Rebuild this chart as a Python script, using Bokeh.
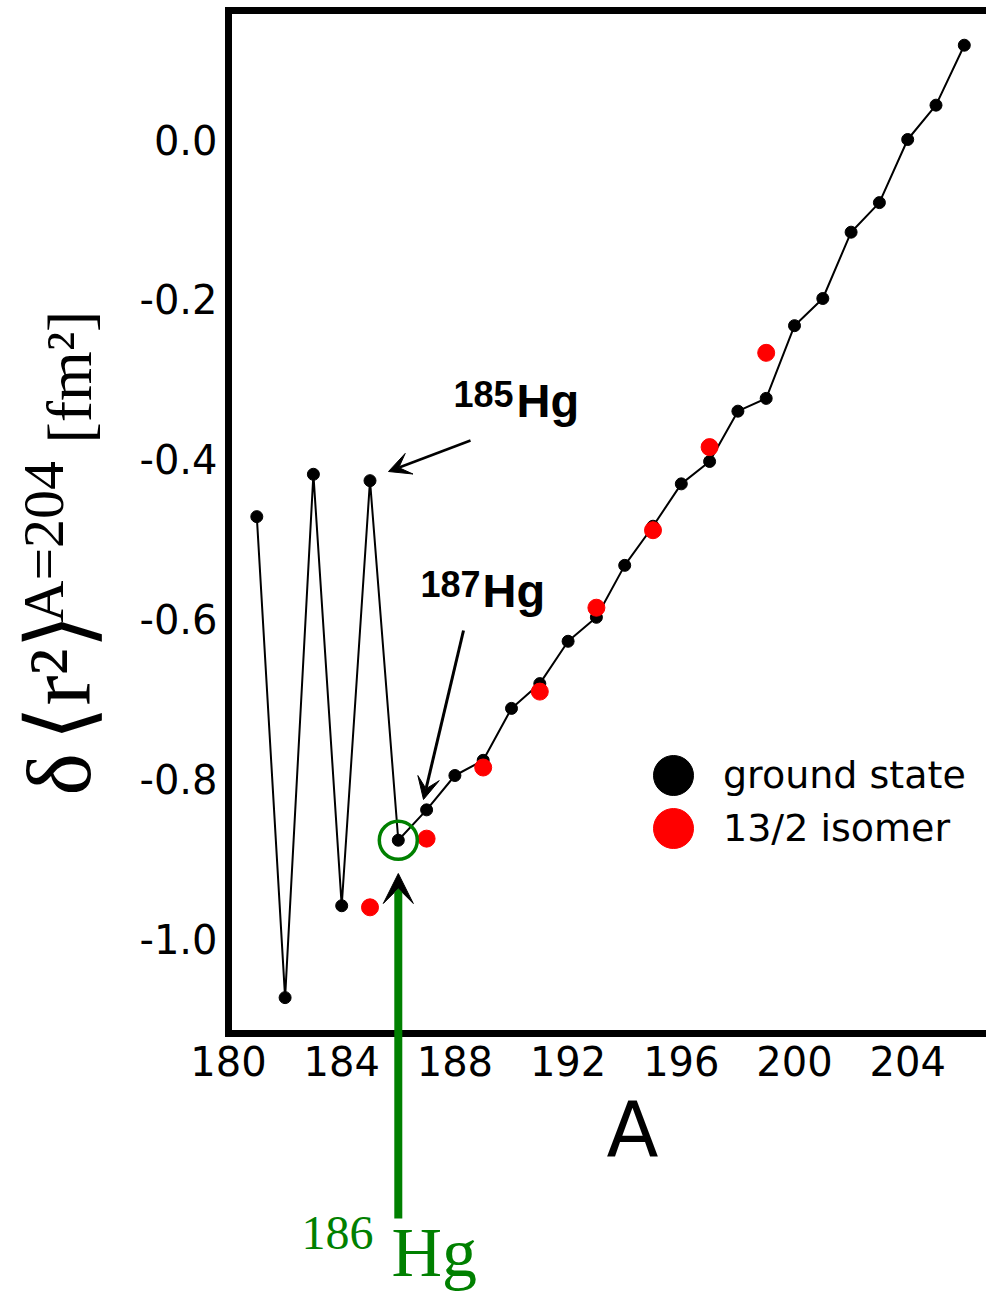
import math
from bokeh.plotting import figure
from bokeh.models import (FixedTicker, NumeralTickFormatter, LinearAxis, Label, Arrow,
                          VeeHead, Legend, LegendItem, Range1d)
from bokeh.embed import file_html
from bokeh.resources import INLINE

# ---- data ----
mass_ground = list(range(181, 207))
r2_ground = [-0.472, -1.074, -0.419, -0.959, -0.427, -0.877, -0.839, -0.796, -0.777,
             -0.712, -0.681, -0.628, -0.598, -0.533, -0.484, -0.431, -0.403, -0.340,
             -0.324, -0.233, -0.199, -0.116, -0.079, 0.0, 0.043, 0.118]
mass_isomer = [185, 187, 189, 191, 193, 195, 197, 199]
r2_isomer = [-0.961, -0.875, -0.786, -0.691, -0.586, -0.489, -0.385, -0.267]
x_ticks = [180, 184, 188, 192, 196, 200, 204]
y_ticks = [-1.0, -0.8, -0.6, -0.4, -0.2, 0.0]
legend_labels = ["ground state", "13/2 isomer"]
highlight_mass = 186

# ---- layout: the frame covers the whole canvas; the box is drawn by fixed axes ----
W, H = 986, 1296
PX_X = 28.3     # pixels per unit of A
PX_Y = 799.0    # pixels per fm^2
X_LEFT = 180.0  # left edge of the drawn box (at 228 px)
X_START = X_LEFT - 228 / PX_X
X_END = X_START + W / PX_X
Y_END = 139 / PX_Y
Y_START = Y_END - H / PX_Y
Y_TOP = Y_END - 10 / PX_Y     # top edge of the drawn box
Y_BOT = Y_END - 1033 / PX_Y   # bottom edge of the drawn box


def dx(px):
    return X_START + px / PX_X


def dy(py):
    return Y_END - py / PX_Y


p = figure(width=W, height=H, output_backend="svg", toolbar_location=None, title=None,
           x_range=Range1d(X_START, X_END), y_range=Range1d(Y_START, Y_END),
           x_axis_location=None, y_axis_location=None, min_border=0)
p.outline_line_color = None
p.background_fill_color = "white"
p.border_fill_color = "white"
p.grid.visible = False


def style_axis(ax, size="40px"):
    ax.axis_line_width = 7
    ax.axis_line_color = "black"
    ax.axis_line_cap = "square"
    ax.major_tick_line_color = None
    ax.minor_tick_line_color = None
    ax.major_tick_out = 0
    ax.major_tick_in = 0
    ax.minor_tick_out = 0
    ax.minor_tick_in = 0
    ax.major_label_text_font = "DejaVu Sans"
    ax.major_label_text_font_size = size
    ax.major_label_text_color = "black"


yax = LinearAxis(ticker=FixedTicker(ticks=y_ticks), formatter=NumeralTickFormatter(format="0.0"),
                 fixed_location=X_LEFT, bounds=(Y_BOT, Y_TOP))
style_axis(yax)
yax.major_label_standoff = 11
p.add_layout(yax, "left")

xax = LinearAxis(ticker=FixedTicker(ticks=x_ticks), fixed_location=Y_BOT, bounds=(X_LEFT, X_END))
style_axis(xax)
xax.major_label_standoff = 12
p.add_layout(xax, "below")

tax = LinearAxis(ticker=FixedTicker(ticks=[]), fixed_location=Y_TOP, bounds=(X_LEFT, X_END))
style_axis(tax, "0px")
tax.major_label_standoff = 0
p.add_layout(tax, "above")

# ---- data ----
p.line(mass_ground, r2_ground, line_color="black", line_width=2)
g = p.scatter(mass_ground, r2_ground, size=12, color="black")
r = p.scatter(mass_isomer, r2_isomer, size=17, color="red")

i186 = mass_ground.index(highlight_mass)
p.scatter([mass_ground[i186]], [r2_ground[i186]], size=38, fill_color=None,
          line_color="green", line_width=3.5)

# ---- legend (one box per entry so the rows can sit close) ----
for item_label, rend, bottom in ((legend_labels[0], g, 825), (legend_labels[1], r, 878)):
    lg = Legend(items=[LegendItem(label=item_label, renderers=[rend])],
                location=(623, H - bottom), glyph_width=100, glyph_height=100,
                padding=0, margin=0, border_line_color=None, background_fill_alpha=0,
                label_text_font="DejaVu Sans", label_text_font_size="38px",
                label_standoff=0, label_text_color="black")
    p.add_layout(lg, "center")

# ---- arrows ----
p.add_layout(Arrow(end=VeeHead(size=22, fill_color="black", line_color="black"),
                   x_start=dx(470), y_start=dy(440), x_end=dx(388), y_end=dy(471),
                   line_width=2.5, line_color="black"))
p.add_layout(Arrow(end=VeeHead(size=22, fill_color="black", line_color="black"),
                   x_start=dx(463), y_start=dy(630), x_end=dx(423), y_end=dy(799),
                   line_width=3, line_color="black"))
p.add_layout(Arrow(end=VeeHead(size=30, fill_color="black", line_color="black"),
                   x_start=highlight_mass, y_start=dy(1218), x_end=highlight_mass, y_end=dy(873),
                   line_width=8, line_color="green"))

BASE_FIX = 0.38  # Label's alphabetic anchor sits this many em above the drawn baseline


def lab(px, py, text, size, font="Liberation Sans", style="bold", color="black",
        align="left", rotated=False):
    if rotated:
        px = px - BASE_FIX * size
        angle = math.pi / 2
    else:
        py = py - BASE_FIX * size
        angle = 0.0
    p.add_layout(Label(x=dx(px), y=dy(py), text=text, text_font=font,
                       text_font_style=style, text_font_size=f"{size}px",
                       text_color=color, text_align=align, text_baseline="alphabetic",
                       angle=angle))


lab(453, 407, "185", 36)
lab(516, 418, "Hg", 47)
lab(420, 597, "187", 36)
lab(482, 608, "Hg", 47)
lab(301, 1251, "186", 48, font="Liberation Serif", style="normal", color="green")
lab(391, 1279, "Hg", 70, font="Liberation Serif", style="normal", color="green")
lab(632, 1158, "A", 76, font="DejaVu Sans", style="normal", align="center")

# y axis label (rotated, in pieces to raise A=204)
lab(93, 795, "δ", 90, font="Liberation Serif", style="normal", rotated=True)
lab(93, 740, "⟨r²⟩", 90, font="Liberation Serif", style="normal", rotated=True)
lab(65, 622, "A=204", 58, font="Liberation Serif", style="normal", rotated=True)
lab(93, 443, "[fm²]", 64, font="Liberation Serif", style="normal", rotated=True)

open("out.html", "w").write(file_html(p, INLINE))
